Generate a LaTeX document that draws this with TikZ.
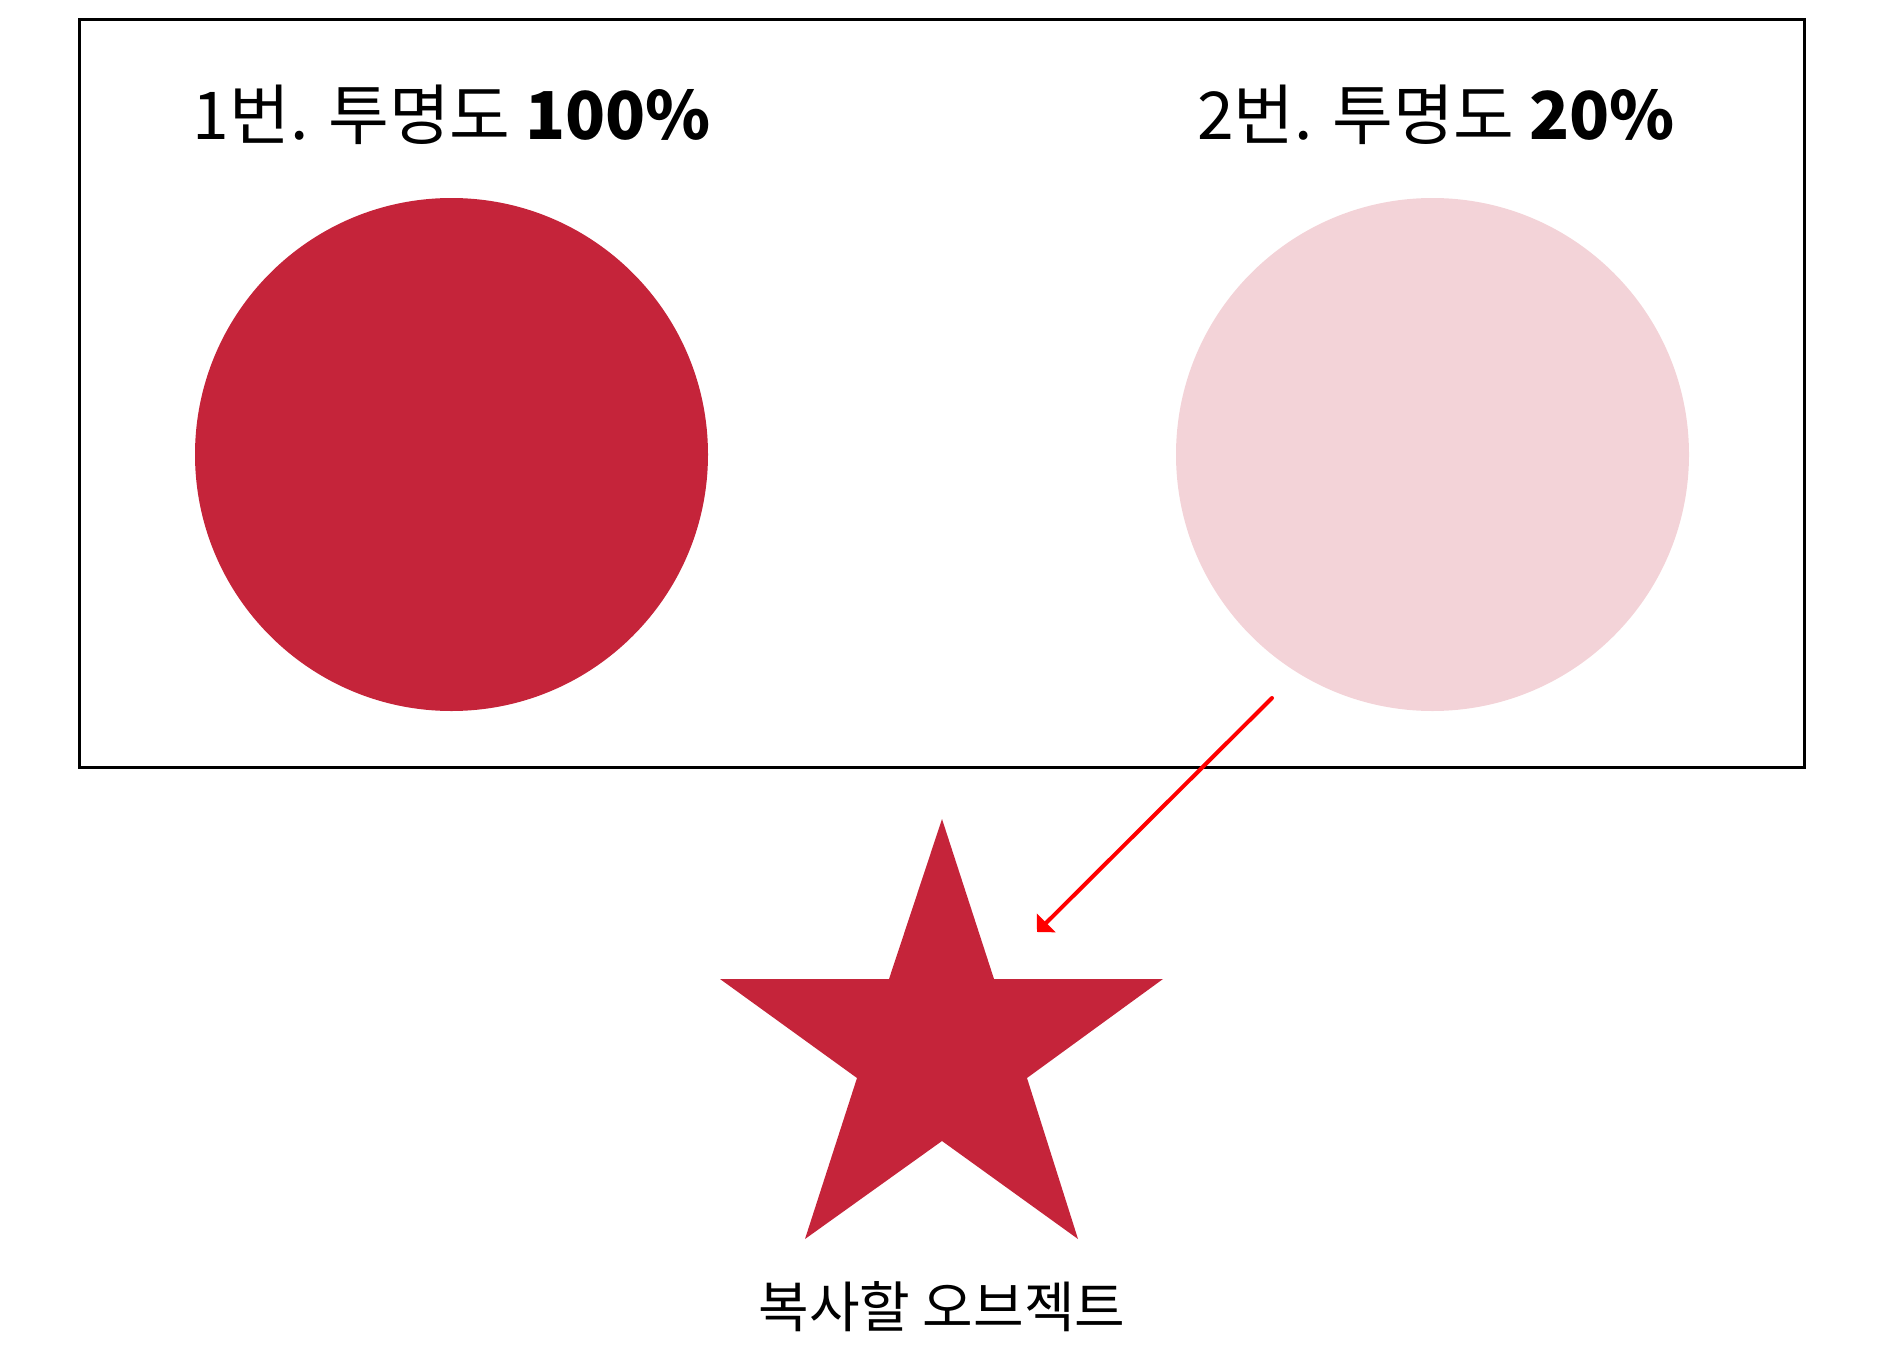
\documentclass[tikz,border=0pt]{standalone}
\usepackage{fontspec}
\setmainfont{Noto Sans CJK KR}
\usetikzlibrary{arrows.meta}
\definecolor{crimson}{HTML}{C5243A}
\tikzset{
	heading/.style={anchor=base,font=\fontsize{33}{38}\selectfont},
	caption/.style={anchor=base,font=\fontsize{27.5}{32}\selectfont},
}

\begin{document}
\begin{tikzpicture}[x=0.5pt,y=-0.5pt]
			\useasboundingbox (0,0) rectangle (1886,1365);
			\draw[line width=1.5pt] (79.5,19) rectangle (1804,767.5);
			\fill[crimson] (451.5,454.5) circle (256.5);
			\fill[crimson,fill opacity=0.2] (1432.5,454.5) circle (256.5);
			\node[heading] (opaque) at (452,139) {1번. 투명도 \textbf{100\%}};
			\node[heading] (faint) at (1436,139) {2번. 투명도 \textbf{20\%}};
			\fill[crimson] (942,819) -- (994,979) -- (1163,979) -- (1027,1078) -- (1078,1239) -- (942,1141)
				-- (805,1239) -- (857,1078) -- (720,979) -- (889,979) -- cycle;
			\node[caption] (copyobj) at (942,1327) {복사할 오브젝트};
			\coordinate (from) at (1272,698);
			\coordinate (to) at (1037,932);
			\draw[red,line width=2pt,line cap=round,-{Triangle[length=6.5pt,width=13pt]}] (from) -- (to);
		\end{tikzpicture}
\end{document}
